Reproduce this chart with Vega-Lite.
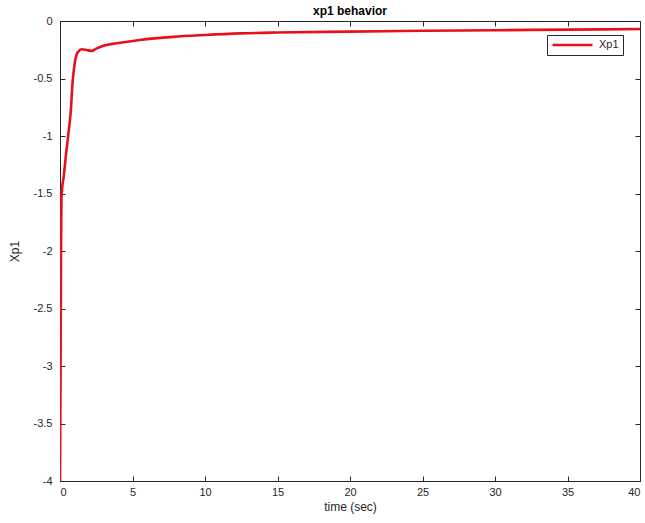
{
  "$schema": "https://vega.github.io/schema/vega-lite/v6.json",
  "width": 580,
  "height": 460,
  "autosize": {"type": "none"},
  "padding": {"left": 60, "top": 21, "right": 5, "bottom": 42},
  "background": "white",
  "title": {"text": "xp1 behavior", "fontSize": 12, "fontWeight": "bold", "font": "Liberation Sans", "color": "#000000", "offset": -3, "anchor": "middle"},
  "config": {
    "view": {"stroke": "#262626", "strokeWidth": 1},
    "axis": {"grid": false, "domain": false, "ticks": true, "tickSize": 5, "offset": -5, "tickColor": "#262626", "labelColor": "#262626", "labelFont": "Liberation Sans", "labelFontSize": 11, "titleFont": "Liberation Sans", "titleFontSize": 12, "titleFontWeight": "normal", "titleColor": "#262626"}
  },
  "data": {"values": [
    {"t": 0, "v": -4, "series": "Xp1"},
    {"t": 0.04, "v": -3, "series": "Xp1"},
    {"t": 0.07, "v": -2, "series": "Xp1"},
    {"t": 0.1, "v": -1.55, "series": "Xp1"},
    {"t": 0.15, "v": -1.45, "series": "Xp1"},
    {"t": 0.25, "v": -1.36, "series": "Xp1"},
    {"t": 0.41, "v": -1.165, "series": "Xp1"},
    {"t": 0.57, "v": -0.99, "series": "Xp1"},
    {"t": 0.74, "v": -0.79, "series": "Xp1"},
    {"t": 0.87, "v": -0.53, "series": "Xp1"},
    {"t": 0.95, "v": -0.43, "series": "Xp1"},
    {"t": 1.03, "v": -0.354, "series": "Xp1"},
    {"t": 1.15, "v": -0.29, "series": "Xp1"},
    {"t": 1.26, "v": -0.267, "series": "Xp1"},
    {"t": 1.5, "v": -0.246, "series": "Xp1"},
    {"t": 1.84, "v": -0.252, "series": "Xp1"},
    {"t": 2.18, "v": -0.26, "series": "Xp1"},
    {"t": 2.5, "v": -0.24, "series": "Xp1"},
    {"t": 3.0, "v": -0.215, "series": "Xp1"},
    {"t": 3.9, "v": -0.194, "series": "Xp1"},
    {"t": 5.5, "v": -0.165, "series": "Xp1"},
    {"t": 7.8, "v": -0.138, "series": "Xp1"},
    {"t": 10, "v": -0.122, "series": "Xp1"},
    {"t": 12.4, "v": -0.108, "series": "Xp1"},
    {"t": 15, "v": -0.1, "series": "Xp1"},
    {"t": 20, "v": -0.092, "series": "Xp1"},
    {"t": 25, "v": -0.085, "series": "Xp1"},
    {"t": 30, "v": -0.08, "series": "Xp1"},
    {"t": 35, "v": -0.075, "series": "Xp1"},
    {"t": 40, "v": -0.07, "series": "Xp1"}
  ]},
  "layer": [
    {
      "mark": {"type": "line", "strokeWidth": 2.6, "interpolate": "monotone", "clip": true},
      "encoding": {
        "x": {"field": "t", "type": "quantitative", "scale": {"domain": [0, 40], "nice": false}, "axis": {"orient": "bottom", "values": [0,5,10,15,20,25,30,35,40], "title": "time (sec)", "labelPadding": 5, "titlePadding": 4}},
        "y": {"field": "v", "type": "quantitative", "scale": {"domain": [-4, 0], "nice": false, "zero": false}, "axis": {"orient": "left", "values": [-4,-3.5,-3,-2.5,-2,-1.5,-1,-0.5,0], "title": "Xp1", "labelExpr": "'' + datum.value", "labelPadding": 8, "titlePadding": 12}},
        "color": {"field": "series", "type": "nominal", "scale": {"range": ["#e8111b"]}, "legend": {"orient": "none", "legendX": 487, "legendY": 14, "title": null, "symbolType": "stroke", "symbolSize": 1600, "symbolStrokeWidth": 2.5, "clipHeight": 12, "labelOffset": 5, "strokeColor": "#262626", "padding": 4, "labelFont": "Liberation Sans", "labelFontSize": 11, "labelColor": "#262626", "fillColor": "white"}}
      }
    },
    {
      "mark": {"type": "line", "opacity": 0},
      "encoding": {
        "x": {"field": "t", "type": "quantitative", "axis": {"orient": "top", "values": [0,5,10,15,20,25,30,35,40], "labels": false, "title": null}},
        "y": {"field": "v", "type": "quantitative", "axis": {"orient": "right", "values": [-4,-3.5,-3,-2.5,-2,-1.5,-1,-0.5,0], "labels": false, "title": null}}
      }
    }
  ],
  "resolve": {"axis": {"x": "independent", "y": "independent"}}
}
